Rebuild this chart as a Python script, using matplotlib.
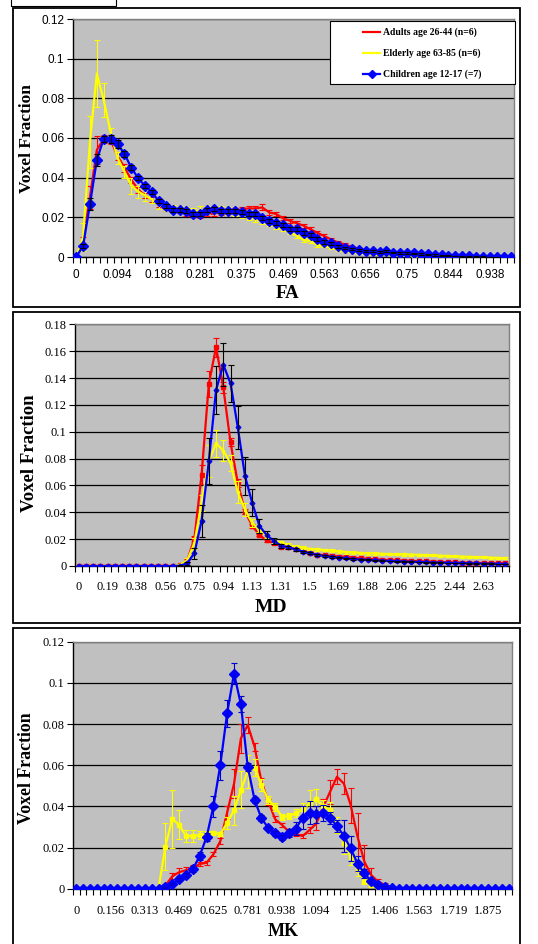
import numpy as np
import matplotlib
matplotlib.use('Agg')
import matplotlib.pyplot as plt
from matplotlib.patches import Rectangle
from matplotlib.lines import Line2D
from matplotlib.ticker import FixedLocator

W, H = 538, 944

SERIES = ['Adults age 26-44 (n=6)', 'Elderly age 63-85 (n=6)', 'Children age 12-17 (=7)']

# ---- FA histogram (64 bins) ----
FA_LABELS = ['0', '0.094', '0.188', '0.281', '0.375', '0.469', '0.563',
             '0.656', '0.75', '0.844', '0.938']
FA_RED = [0, 0.008, 0.03, 0.054, 0.0595, 0.059, 0.051, 0.045,
          0.039, 0.034, 0.031, 0.029, 0.026, 0.024, 0.0235, 0.023,
          0.0215, 0.021, 0.0205, 0.0215, 0.022, 0.0225, 0.023, 0.0235,
          0.024, 0.0245, 0.0245, 0.025, 0.0225, 0.0217, 0.0195, 0.0183,
          0.017, 0.0158, 0.0139, 0.0122, 0.0105, 0.0088, 0.0073, 0.0063,
          0.0051, 0.0042, 0.0034, 0.0029, 0.0025, 0.0022, 0.002, 0.0017,
          0.0014, 0.0012, 0.001, 0.0008, 0.0006, 0.0004, 0.0003, 0.0002,
          0.0002, 0.0001, 0.0001, 0, 0, 0, 0, 0]
FA_RED_ERR = [0, 0.002, 0.006, 0.007, 0.002, 0.002, 0.002, 0.002,
              0.0015, 0.0015, 0.0015, 0.0012, 0.001, 0.001, 0.001, 0.001,
              0.001, 0.001, 0.001, 0.001, 0.0012, 0.0012, 0.0012, 0.0012,
              0.0012, 0.0012, 0.0012, 0.0015, 0.0012, 0.001, 0.001, 0.001,
              0.001, 0.001, 0.001, 0.001, 0.001, 0.0008, 0.0008, 0.0008,
              0.0006, 0.0005, 0.0005, 0.0004, 0.0004, 0.0003, 0.0003, 0.0003,
              0.0002, 0.0002, 0.0002, 0.0002, 0.0001, 0.0001, 0.0001, 0.0001,
              0.0001, 0, 0, 0, 0, 0, 0, 0]
FA_YEL = [0, 0.01, 0.058, 0.0925, 0.079, 0.063, 0.05, 0.043,
          0.036, 0.033, 0.031, 0.029, 0.026, 0.025, 0.0245, 0.024,
          0.0235, 0.023, 0.0235, 0.0235, 0.024, 0.0235, 0.023, 0.022,
          0.0212, 0.0203, 0.019, 0.0178, 0.017, 0.0153, 0.0139, 0.0124,
          0.0107, 0.0085, 0.0081, 0.0059, 0.0056, 0.0047, 0.0037, 0.0029,
          0.0024, 0.002, 0.0017, 0.0014, 0.0012, 0.001, 0.0008, 0.0006,
          0.0005, 0.0003, 0.0002, 0.0001, 0.0001, 0, 0, 0,
          0, 0, 0, 0, 0, 0, 0, 0]
FA_YEL_ERR = [0, 0.007, 0.013, 0.017, 0.0085, 0.002, 0.003, 0.003,
              0.004, 0.003, 0.003, 0.002, 0.002, 0.002, 0.0015, 0.0015,
              0.0015, 0.0015, 0.002, 0.002, 0.0015, 0.002, 0.002, 0.0015,
              0.0015, 0.0015, 0.0012, 0.0012, 0.0012, 0.001, 0.001, 0.001,
              0.001, 0.001, 0.001, 0.0008, 0.0008, 0.0006, 0.0005, 0.0005,
              0.0004, 0.0004, 0.0003, 0.0003, 0.0002, 0.0002, 0.0002, 0.0001,
              0.0001, 0.0001, 0, 0, 0, 0, 0, 0,
              0, 0, 0, 0, 0, 0, 0, 0]
FA_BLUE = [0, 0.0055, 0.0265, 0.049, 0.0597, 0.0597, 0.057, 0.052,
           0.045, 0.0397, 0.0358, 0.0328, 0.028, 0.0259, 0.0235, 0.0239,
           0.0234, 0.0218, 0.0218, 0.0239, 0.0242, 0.0232, 0.0232, 0.0232,
           0.0225, 0.0218, 0.0215, 0.0195, 0.0182, 0.017, 0.016, 0.0143,
           0.014, 0.012, 0.0113, 0.0093, 0.0076, 0.007, 0.0055, 0.0044,
           0.0039, 0.0034, 0.003, 0.0029, 0.0024, 0.0029, 0.0022, 0.0019,
           0.002, 0.0018, 0.0015, 0.0013, 0.001, 0.0008, 0.0007, 0.0005,
           0.0004, 0.0003, 0.0002, 0.0002, 0.0001, 0.0001, 0.0001, 0.0001]
FA_BLUE_ERR = [0, 0.001, 0.003, 0.003, 0.0015, 0.002, 0.002, 0.0015,
               0.0012, 0.001, 0.001, 0.001, 0.001, 0.001, 0.001, 0.001,
               0.001, 0.001, 0.001, 0.001, 0.001, 0.001, 0.001, 0.001,
               0.001, 0.001, 0.001, 0.001, 0.001, 0.001, 0.001, 0.001,
               0.001, 0.001, 0.001, 0.001, 0.0008, 0.0008, 0.0008, 0.0006,
               0.0006, 0.0005, 0.0005, 0.0005, 0.0005, 0.0005, 0.0004, 0.0004,
               0.0004, 0.0003, 0.0003, 0.0003, 0.0003, 0.0002, 0.0002, 0.0002,
               0.0002, 0.0001, 0.0001, 0.0001, 0.0001, 0.0001, 0, 0]

# ---- MD histogram (60 bins) ----
MD_LABELS = ['0', '0.19', '0.38', '0.56', '0.75', '0.94', '1.13', '1.31',
             '1.5', '1.69', '1.88', '2.06', '2.25', '2.44', '2.63']
MD_RED = [0, 0, 0, 0, 0, 0, 0, 0, 0, 0,
          0, 0, 0, 0, 0.0005, 0.004, 0.02, 0.068, 0.1355, 0.163,
          0.133, 0.092, 0.062, 0.0405, 0.03, 0.023, 0.019, 0.017, 0.0145, 0.014,
          0.0125, 0.011, 0.0095, 0.0085, 0.008, 0.0075, 0.007, 0.0068, 0.0062, 0.0057,
          0.0052, 0.005, 0.0047, 0.0044, 0.0042, 0.004, 0.0038, 0.0036, 0.0034, 0.0032,
          0.003, 0.0028, 0.0027, 0.0026, 0.0024, 0.0023, 0.0022, 0.0021, 0.002, 0.002]
MD_RED_ERR = [0, 0, 0, 0, 0, 0, 0, 0, 0, 0,
              0, 0, 0, 0, 0.0003, 0.001, 0.002, 0.007, 0.01, 0.007,
              0.004, 0.003, 0.003, 0.002, 0.0015, 0.001, 0.001, 0.0008, 0.0008, 0.0007,
              0.0007, 0.0006, 0.0006, 0.0005, 0.0005, 0.0005, 0.0005, 0.0004, 0.0004, 0.0004,
              0.0004, 0.0004, 0.0003, 0.0003, 0.0003, 0.0003, 0.0003, 0.0003, 0.0003, 0.0003,
              0.0003, 0.0003, 0.0002, 0.0002, 0.0002, 0.0002, 0.0002, 0.0002, 0.0002, 0.0002]
MD_YEL = [0, 0, 0, 0, 0, 0, 0, 0, 0, 0,
          0, 0, 0, 0, 0.001, 0.004, 0.017, 0.047, 0.078, 0.0913,
          0.086, 0.0765, 0.055, 0.042, 0.032, 0.027, 0.022, 0.019, 0.0176, 0.0156,
          0.0144, 0.0137, 0.0127, 0.0124, 0.0118, 0.0113, 0.0109, 0.0103, 0.01, 0.0097,
          0.0095, 0.0093, 0.0091, 0.0089, 0.0087, 0.0086, 0.0085, 0.0083, 0.0081, 0.0079,
          0.0077, 0.0075, 0.0072, 0.007, 0.0068, 0.0066, 0.0064, 0.0062, 0.006, 0.0058]
MD_YEL_ERR = [0, 0, 0, 0, 0, 0, 0, 0, 0, 0,
              0, 0, 0, 0, 0.0005, 0.002, 0.004, 0.006, 0.012, 0.01,
              0.008, 0.006, 0.008, 0.005, 0.003, 0.002, 0.0015, 0.0015, 0.0012, 0.0012,
              0.0012, 0.0012, 0.001, 0.001, 0.001, 0.001, 0.001, 0.001, 0.001, 0.001,
              0.001, 0.001, 0.0008, 0.0008, 0.0008, 0.0008, 0.0008, 0.0008, 0.0008, 0.0008,
              0.0008, 0.0008, 0.0008, 0.0008, 0.0008, 0.0008, 0.0008, 0.0008, 0.0008, 0.0008]
MD_BLUE = [0, 0, 0, 0, 0, 0, 0, 0, 0, 0,
           0, 0, 0, 0, 0.0002, 0.002, 0.0095, 0.0335, 0.078, 0.131,
           0.15, 0.136, 0.1035, 0.067, 0.047, 0.0298, 0.023, 0.0186, 0.0151, 0.0139,
           0.0124, 0.0107, 0.0094, 0.0082, 0.0074, 0.0067, 0.0062, 0.0057, 0.0052, 0.0048,
           0.0045, 0.0042, 0.004, 0.0037, 0.0035, 0.0033, 0.0031, 0.003, 0.0028, 0.0026,
           0.0025, 0.0024, 0.0022, 0.0021, 0.002, 0.0019, 0.0018, 0.0017, 0.0016, 0.0015]
MD_BLUE_ERR = [0, 0, 0, 0, 0, 0, 0, 0, 0, 0,
               0, 0, 0, 0, 0.0002, 0.001, 0.004, 0.012, 0.017, 0.018,
               0.016, 0.014, 0.016, 0.014, 0.01, 0.005, 0.003, 0.002, 0.0015, 0.001,
               0.001, 0.0008, 0.0008, 0.0007, 0.0006, 0.0006, 0.0005, 0.0005, 0.0005, 0.0004,
               0.0004, 0.0004, 0.0004, 0.0003, 0.0003, 0.0003, 0.0003, 0.0003, 0.0003, 0.0003,
               0.0002, 0.0002, 0.0002, 0.0002, 0.0002, 0.0002, 0.0002, 0.0002, 0.0002, 0.0002]

# ---- MK histogram (64 bins) ----
MK_LABELS = ['0', '0.156', '0.313', '0.469', '0.625', '0.781', '0.938',
             '1.094', '1.25', '1.406', '1.563', '1.719', '1.875']
MK_RED = [0, 0, 0, 0, 0, 0, 0, 0,
          0, 0, 0, 0, 0.0002, 0.0015, 0.006, 0.008,
          0.009, 0.01, 0.012, 0.0126, 0.0167, 0.023, 0.037, 0.051,
          0.073, 0.0795, 0.069, 0.052, 0.0423, 0.0337, 0.031, 0.0277,
          0.0264, 0.0256, 0.0285, 0.0317, 0.0398, 0.0471, 0.0544, 0.0511,
          0.0406, 0.0252, 0.0131, 0.0066, 0.0034, 0.0018, 0.0006, 0.0002,
          0, 0, 0, 0, 0, 0, 0, 0,
          0, 0, 0, 0, 0, 0, 0, 0]
MK_RED_ERR = [0, 0, 0, 0, 0, 0, 0, 0,
              0, 0, 0, 0, 0, 0.001, 0.0015, 0.002,
              0.0015, 0.0015, 0.001, 0.001, 0.001, 0.0015, 0.003, 0.007,
              0.007, 0.004, 0.002, 0.002, 0.0015, 0.0015, 0.001, 0.001,
              0.001, 0.001, 0.0015, 0.003, 0.0036, 0.0058, 0.0036, 0.005,
              0.0085, 0.0117, 0.008, 0.0036, 0.0015, 0.0008, 0.0003, 0.0002,
              0, 0, 0, 0, 0, 0, 0, 0,
              0, 0, 0, 0, 0, 0, 0, 0]
MK_YEL = [0, 0, 0, 0, 0, 0, 0, 0,
          0, 0, 0, 0, 0, 0.0204, 0.034, 0.031,
          0.0256, 0.0256, 0.026, 0.0265, 0.0272, 0.0265, 0.032, 0.038,
          0.048, 0.057, 0.0588, 0.0504, 0.0431, 0.0398, 0.035, 0.0353,
          0.0366, 0.0385, 0.0414, 0.0434, 0.0401, 0.0382, 0.031, 0.022,
          0.0155, 0.009, 0.0039, 0.0018, 0.0006, 0.0002, 0, 0,
          0, 0, 0, 0, 0, 0, 0, 0,
          0, 0, 0, 0, 0, 0, 0, 0]
MK_YEL_ERR = [0, 0, 0, 0, 0, 0, 0, 0,
              0, 0, 0, 0, 0, 0.0115, 0.014, 0.007,
              0.003, 0.003, 0.002, 0.0015, 0.001, 0.001, 0.003, 0.007,
              0.009, 0.008, 0.004, 0.003, 0.002, 0.002, 0.0015, 0.0015,
              0.002, 0.003, 0.0065, 0.005, 0.003, 0.004, 0.004, 0.005,
              0.004, 0.003, 0.0015, 0.001, 0.0005, 0.0002, 0, 0,
              0, 0, 0, 0, 0, 0, 0, 0,
              0, 0, 0, 0, 0, 0, 0, 0]
MK_BLUE = [0, 0, 0, 0, 0, 0, 0, 0,
           0, 0, 0, 0, 0, 0.0007, 0.0022, 0.0045,
           0.0066, 0.0094, 0.016, 0.025, 0.04, 0.06, 0.0853, 0.1045,
           0.0897, 0.0593, 0.0431, 0.0342, 0.0295, 0.0269, 0.0251, 0.0269,
           0.0292, 0.0345, 0.0369, 0.0361, 0.0369, 0.0345, 0.0304, 0.0257,
           0.0196, 0.0121, 0.0074, 0.0037, 0.0019, 0.0008, 0.0003, 0,
           0, 0, 0, 0, 0, 0, 0, 0,
           0, 0, 0, 0, 0, 0, 0, 0]
MK_BLUE_ERR = [0, 0, 0, 0, 0, 0, 0, 0,
               0, 0, 0, 0, 0, 0.0003, 0.0005, 0.0008,
               0.001, 0.0015, 0.002, 0.002, 0.005, 0.007, 0.0065, 0.005,
               0.004, 0.002, 0.0015, 0.0015, 0.0012, 0.0012, 0.0012, 0.002,
               0.003, 0.0057, 0.0057, 0.004, 0.004, 0.003, 0.003, 0.0077,
               0.006, 0.0036, 0.002, 0.001, 0.0006, 0.0003, 0.0002, 0,
               0, 0, 0, 0, 0, 0, 0, 0,
               0, 0, 0, 0, 0, 0, 0, 0]

SERIF = 'Liberation Serif'
SANS = 'Liberation Sans'


def px_box(x0, y0, x1, y1):
    return [x0 / W, 1 - y1 / H, (x1 - x0) / W, (y1 - y0) / H]


def draw_series(ax, vals, errs, color, ecolor, marker, ms, z):
    x = np.arange(len(vals))
    y = np.array(vals)
    e = np.array(errs)
    ax.plot(x, y, color=color, lw=1.6, marker=marker, ms=ms,
            mec=color, mfc=color, zorder=z)
    m = e > 0
    ax.errorbar(x[m], y[m], yerr=e[m], fmt='none', ecolor=ecolor,
                elinewidth=0.8, capsize=2, capthick=0.8, zorder=z + 0.5)


def setup_axes(ax, n, labels, step, ymax, ystep, tickfont, tsize, xpad):
    ax.set_facecolor('#c0c0c0')
    ax.set_xlim(-0.5, n - 0.5)
    ax.set_ylim(0, ymax)
    yt = np.arange(0, ymax + ystep / 2, ystep)
    ax.set_yticks(yt)
    ax.set_yticklabels([f'{v:g}' for v in np.round(yt, 3)],
                       fontfamily=tickfont, fontsize=tsize)
    ax.set_xticks(np.arange(0, n, step)[:len(labels)])
    ax.set_xticklabels(labels, fontfamily=tickfont, fontsize=tsize)
    ax.xaxis.set_minor_locator(FixedLocator(np.arange(n + 1) - 0.5))
    ax.tick_params(axis='x', which='major', length=0, pad=xpad)
    ax.tick_params(axis='x', which='minor', length=4, width=0.8, direction='out')
    ax.tick_params(axis='y', length=4, width=0.8, direction='out', pad=2)
    ax.yaxis.grid(True, color='black', lw=0.9)
    ax.set_axisbelow(True)
    for s in ['top', 'right']:
        ax.spines[s].set_color('#808080')
        ax.spines[s].set_linewidth(1.0)
    for s in ['left', 'bottom']:
        ax.spines[s].set_color('black')
        ax.spines[s].set_linewidth(1.0)


fig = plt.figure(figsize=(W / 100, H / 100), dpi=100)

# panel frames
for (x0, y0, x1, y1) in [(13, 8, 520, 307), (13, 312, 520, 623), (13, 628, 520, 960)]:
    fig.add_artist(Rectangle((x0 / W, 1 - y1 / H), (x1 - x0) / W, (y1 - y0) / H,
                             transform=fig.transFigure, fill=False,
                             edgecolor='black', lw=1.3))
fig.add_artist(Rectangle((10.5 / W, 1 - 6 / H), 105.5 / W, 20 / H,
                         transform=fig.transFigure, fill=False,
                         edgecolor='black', lw=0.8))

# FA
ax1 = fig.add_axes(px_box(72.7, 19, 514, 257))
setup_axes(ax1, len(FA_RED), FA_LABELS, 6, 0.12, 0.02, SANS, 8.5, 9)
draw_series(ax1, FA_RED, FA_RED_ERR, '#ff0000', '#ff0000', None, 0, 3)
draw_series(ax1, FA_YEL, FA_YEL_ERR, '#ffff00', '#ffff00', None, 0, 4)
draw_series(ax1, FA_BLUE, FA_BLUE_ERR, '#0000ff', 'black', 'D', 5, 5)

# MD
ax2 = fig.add_axes(px_box(75, 324.3, 509, 566))
setup_axes(ax2, len(MD_RED), MD_LABELS, 4, 0.18, 0.02, SERIF, 9, 11)
draw_series(ax2, MD_RED, MD_RED_ERR, '#ff0000', '#ff0000', 's', 2.6, 3)
draw_series(ax2, MD_YEL, MD_YEL_ERR, '#ffff00', '#ffff00', 's', 1.6, 4)
draw_series(ax2, MD_BLUE, MD_BLUE_ERR, '#0000ff', 'black', 'D', 2.4, 5)

# MK
ax3 = fig.add_axes(px_box(72.7, 641.7, 512, 888.7))
setup_axes(ax3, len(MK_RED), MK_LABELS, 5, 0.12, 0.02, SERIF, 9, 12)
draw_series(ax3, MK_RED, MK_RED_ERR, '#ff0000', '#ff0000', None, 0, 3)
draw_series(ax3, MK_YEL, MK_YEL_ERR, '#ffff00', '#ffff00', 's', 2.2, 4)
draw_series(ax3, MK_BLUE, MK_BLUE_ERR, '#0000ff', '#0000cc', 'D', 5, 5)

# axis titles
for (x, y, s, size) in [(288, 294, 'FA', 13.5), (271, 608, 'MD', 14), (283, 932, 'MK', 13)]:
    fig.text(x / W, 1 - y / H, s, ha='center', va='center',
             fontfamily=SERIF, fontweight='bold', fontsize=size)
for (x, y, size) in [(27, 139, 12.5), (29, 453, 13.5), (27, 768, 12.8)]:
    fig.text(x / W, 1 - y / H, 'Voxel Fraction', ha='center', va='center',
             rotation=90, fontfamily=SERIF, fontweight='bold', fontsize=size)

# legend box in FA panel
fig.add_artist(Rectangle((330 / W, 1 - 84 / H), 185 / W, 63 / H,
                         transform=fig.transFigure, facecolor='white',
                         edgecolor='black', lw=0.8, zorder=10))
leg_style = [('#ff0000', None), ('#ffff00', None), ('#0000ff', 'D')]
for (name, (c, mk), y) in zip(SERIES, leg_style, [32, 53, 74]):
    fig.add_artist(Line2D([363 / W, 380 / W], [1 - y / H, 1 - y / H],
                          transform=fig.transFigure, color=c, lw=1.6,
                          zorder=11))
    if mk:
        fig.add_artist(Line2D([371.5 / W], [1 - y / H], transform=fig.transFigure,
                              color=c, marker=mk, ms=4.5, zorder=12))
    fig.text(383 / W, 1 - y / H, name, ha='left', va='center', zorder=12,
             fontfamily=SERIF, fontweight='bold', fontsize=7)

fig.savefig('out.png', dpi=100)
